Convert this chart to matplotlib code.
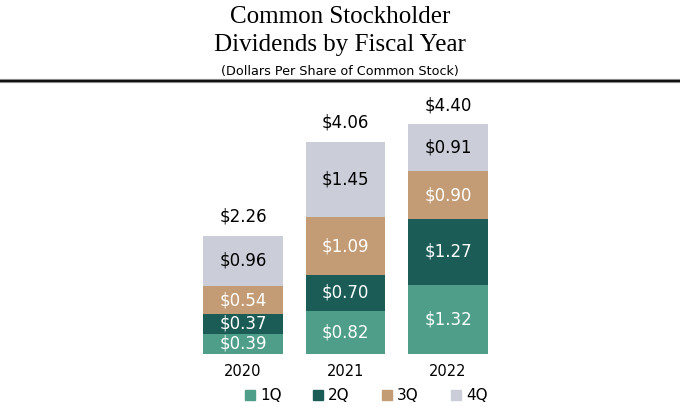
import matplotlib.pyplot as plt
from matplotlib.patches import Rectangle
import numpy as np

years = ['2020', '2021', '2022']
q1 = [0.39, 0.82, 1.32]
q2 = [0.37, 0.70, 1.27]
q3 = [0.54, 1.09, 0.90]
q4 = [0.96, 1.45, 0.91]
totals = ['$2.26', '$4.06', '$4.40']
series_names = ['1Q', '2Q', '3Q', '4Q']

colors = ['#4E9E89', '#1B5C57', '#C39B74', '#CBCED8']
text_colors = ['white', 'white', 'white', 'black']

plt.rcParams['font.family'] = ['DejaVu Sans']

fig = plt.figure(figsize=(6.8, 4.07), dpi=100)
ax = fig.add_axes([0, (407 - 354) / 407, 1, 264 / 407])

x = np.arange(len(years))
width = 0.78
bottom = np.zeros(len(years))
for vals, col, tcol in zip([q1, q2, q3, q4], colors, text_colors):
    vals = np.array(vals)
    ax.bar(x, vals, width, bottom=bottom, color=col)
    for xi, b, v in zip(x, bottom, vals):
        ax.text(xi, b + v / 2, f'${v:.2f}', ha='center', va='center',
                color=tcol, fontsize=12)
    bottom += vals

for xi, top, lab in zip(x, bottom, totals):
    ax.text(xi, top + 0.36, lab, ha='center', va='center', fontsize=12)

for xi, yr in zip(x, years):
    ax.text(xi, -0.33, yr, ha='center', va='center', fontsize=10.5)

ax.set_xlim(-243 / 102.5, (680 - 243) / 102.5)
ax.set_ylim(0, 264 / 52.3)
ax.axis('off')

# titles
fig.text(0.5, 1 - 17 / 407, 'Common Stockholder', ha='center', va='center',
         fontsize=18, family='Liberation Serif')
fig.text(0.5, 1 - 45 / 407, 'Dividends by Fiscal Year', ha='center', va='center',
         fontsize=18, family='Liberation Serif')
fig.text(0.5, 1 - 71 / 407, '(Dollars Per Share of Common Stock)', ha='center',
         va='center', fontsize=9.2)
fig.add_artist(plt.Line2D([0, 1], [1 - 81 / 407, 1 - 81 / 407], color='#9a9a9a', lw=3))
fig.add_artist(plt.Line2D([0, 1], [1 - 81 / 407, 1 - 81 / 407], color='#111111', lw=1.6))

# legend
leg_x = [245, 313, 382, 451]
for lx, name, col in zip(leg_x, series_names, colors):
    fig.add_artist(Rectangle((lx / 680, (407 - 400) / 407), 10 / 680, 10 / 407,
                             color=col, transform=fig.transFigure))
    fig.text((lx + 15) / 680, (407 - 395) / 407, name, ha='left', va='center',
             fontsize=11)

fig.savefig('out.png', dpi=100)
